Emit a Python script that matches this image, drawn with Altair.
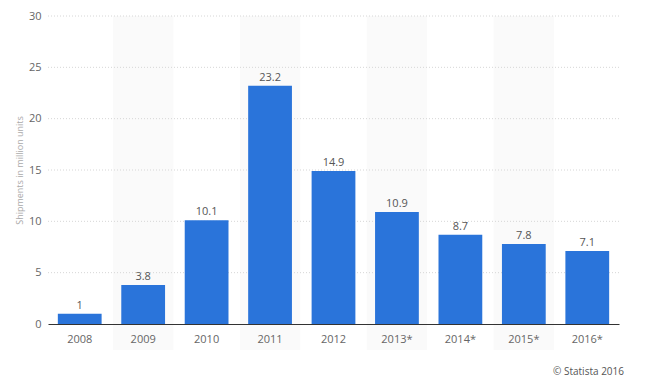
import altair as alt
import pandas as pd

years = ["2008", "2009", "2010", "2011", "2012", "2013*", "2014*", "2015*", "2016*"]
shipments = [1, 3.8, 10.1, 23.2, 14.9, 10.9, 8.7, 7.8, 7.1]
shaded = [False, True, False, True, False, True, False, True, False]
grid_values = [5, 10, 15, 20, 25, 30]

df = pd.DataFrame({"year": years, "value": shipments, "shaded": shaded})
gdf = pd.DataFrame({"g": grid_values})

xscale = alt.Scale(paddingInner=0.31, paddingOuter=0.155)
yscale = alt.Scale(domain=[0, 30])
xenc = alt.X("year:N", sort=years, scale=xscale,
             axis=alt.Axis(title=None, labelAngle=0, labelColor="#666", labelFontSize=11,
                           labelFont="Open Sans", domainColor="#333", domainWidth=1.2,
                           ticks=False, labelPadding=9, grid=False, zindex=1))

bands = alt.Chart(df).transform_filter("datum.shaded").mark_bar(
    color="#fafafa", width=alt.RelativeBandSize(1.38)
).encode(x=xenc, y=alt.value(0), y2=alt.value(334))

grid = alt.Chart(gdf).mark_rule(color="#d6d6d6", strokeDash=[1, 2], strokeWidth=1).encode(
    y=alt.Y("g:Q", scale=yscale), x=alt.value(0), x2=alt.value(571)
)

bars = alt.Chart(df).mark_bar(color="#2a74da").encode(
    x=xenc,
    y=alt.Y("value:Q", scale=yscale,
            axis=alt.Axis(title="Shipments in million units", values=[0, 5, 10, 15, 20, 25, 30],
                          titleFontSize=9, titleColor="#aaa", titleFontWeight="normal",
                          titleFont="Open Sans", titlePadding=4,
                          labelColor="#666", labelFontSize=11, labelFont="Open Sans",
                          labelPadding=7, ticks=False, domain=False, grid=False)),
)

labels = alt.Chart(df).mark_text(dy=-8, fontSize=11, color="#555", font="Open Sans").encode(
    x=alt.X("year:N", sort=years, scale=xscale),
    y=alt.Y("value:Q", scale=yscale),
    text=alt.Text("value:Q"),
)

credit = alt.Chart(pd.DataFrame({"t": ["© Statista 2016"]})).mark_text(
    align="right", fontSize=10, color="#555", font="Open Sans"
).encode(x=alt.value(576), y=alt.value(356), text="t:N")

chart = alt.layer(bands, grid, bars, labels, credit).properties(
    width=571, height=308,
    autosize=alt.AutoSizeParams(type="none"),
    padding={"left": 40, "top": 8, "right": 44, "bottom": 53},
).configure_view(stroke=None)

chart.save("out.html", embed_options={"renderer": "svg", "actions": False})
